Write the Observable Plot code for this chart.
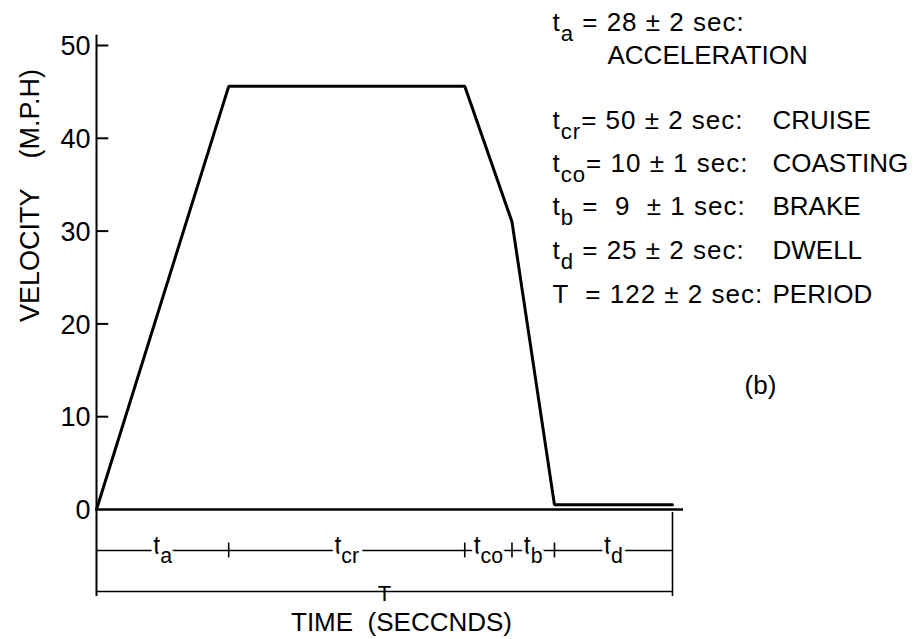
<!DOCTYPE html>
<html>
<head>
<meta charset="utf-8">
<script src="https://cdn.jsdelivr.net/npm/d3@7"></script>
<script src="https://cdn.jsdelivr.net/npm/@observablehq/plot@0.6"></script>
<style>
  html, body { margin: 0; padding: 0; background: #fff; }
  svg text { white-space: pre; }
  svg g.key-eq text { letter-spacing: 1px; }
</style>
</head>
<body>
<div id="chart"></div>
<script>
// Drive-cycle velocity profile: phase boundaries (s) and speed at each boundary (mph)
const phaseEnds = [0, 28, 78, 88, 97, 122];
const velocity = [0, 45.6, 45.6, 31, 0.5, 0.5];
const phaseLabels = ["t_{a}", "t_{cr}", "t_{co}", "t_{b}", "t_{d}"];
const periodLabel = "T";
const yTicks = [0, 10, 20, 30, 40, 50];

// Phase durations key
const legendSymbols = ["t_{a}", "t_{cr}", "t_{co}", "t_{b}", "t_{d}", "T"];
const legendEquations = [" = 28 ± 2 sec:", "= 50 ± 2 sec:", "= 10 ± 1 sec:", " =  9  ± 1 sec:", " = 25 ± 2 sec:", "  = 122 ± 2 sec:"];
const legendNames = ["ACCELERATION", "CRUISE", "COASTING", "BRAKE", "DWELL", "PERIOD"];
const yTitle = "VELOCITY\u00a0\u00a0\u00a0\u00a0(M.P.H)";
const xTitle = "TIME\u00a0\u00a0(SECCNDS)";
const panelTag = "(b)";

// ---- layout ----
const W = 917, H = 639;
const mL = 96, mR = 234, mT = 45, mB = 130;
const FONT = "'Liberation Sans', Arial, sans-serif";
const FS = 26;
const vPx = (H - mB - mT) / 50;               // px per mph
const below = px => -px / vPx;                // pixels under the zero line -> mph units

const ROW = below(41), PERIOD_ROW = below(82), BOX_BOTTOM = below(87);
const legendRows = [22, 120, 163, 206, 250, 294];
const legendWrapY = 55;

const cycle = phaseEnds.map((t, i) => ({t, v: velocity[i]}));
const mids = phaseLabels.map((_, i) => (phaseEnds[i] + phaseEnds[i + 1]) / 2);

// pixel-placed text helper (anchored to the frame's top-left corner)
const place = (str, px, py, opts = {}) =>
  Plot.text([str], {frameAnchor: "top-left", dx: px - mL, dy: py - mT, fontSize: FS, fill: "black",
    textAnchor: "start", lineAnchor: "middle", ...opts});

const chart = Plot.plot({
  width: W, height: H,
  marginLeft: mL, marginRight: mR, marginTop: mT, marginBottom: mB,
  x: {domain: [0, 122], range: [mL, 672], axis: null},
  y: {domain: [0, 50], axis: null},
  style: {fontFamily: FONT, background: "#fff", color: "#000", overflow: "visible"},
  marks: [
    // vertical axis (continues down as left edge of the time box)
    Plot.ruleX([0], {y1: BOX_BOTTOM, y2: 51.1, strokeWidth: 2}),
    // zero line
    Plot.ruleY([0], {strokeWidth: 2.5}),
    // inward ticks and labels
    Plot.ruleY(yTicks.filter(d => d > 0), {y: d => d, x1: 0, x2: 2.6, strokeWidth: 2}),
    Plot.text(yTicks, {x: 0, y: d => d, text: d => String(d), textAnchor: "end", dx: -6, dy: 1, fontSize: 27}),
    // velocity profile
    Plot.line(cycle, {x: "t", y: "v", strokeWidth: 3, strokeLinejoin: "miter"}),
    // time box: right edge, phase row, period row
    Plot.ruleX([122], {y1: BOX_BOTTOM, y2: below(3), strokeWidth: 1.6}),
    Plot.ruleY([ROW], {x1: 0, x2: 122, strokeWidth: 1.6}),
    Plot.ruleX(phaseEnds.slice(1, -1), {x: d => d, y1: ROW - 0.8, y2: ROW + 0.8, strokeWidth: 1.6}),
    Plot.text(phaseLabels, {x: (d, i) => mids[i], y: ROW, text: d => d, lineAnchor: "bottom", dy: 3,
      fontSize: 25, fill: "black", stroke: "white", strokeWidth: 7, paintOrder: "stroke"}),
    Plot.ruleY([PERIOD_ROW], {x1: 0, x2: 122, strokeWidth: 1.6}),
    Plot.text([periodLabel], {x: 61, y: PERIOD_ROW, lineAnchor: "middle", dy: 2, fontSize: 22, fill: "black"}),
    // axis titles
    place(xTitle, 401, 622, {textAnchor: "middle"}),
    place(yTitle, 30, 195, {rotate: -90, textAnchor: "middle", fontSize: 27}),
    // key of phase durations
    ...legendSymbols.map((s, i) =>
      place(s + legendEquations[i], 552, legendRows[i], {className: "key-eq"})),
    place(legendNames[0], 607, legendWrapY),
    ...legendNames.slice(1).map((s, i) => place(s, 772, legendRows[i + 1])),
    place(panelTag, 760, 385, {textAnchor: "middle"})
  ]
});

document.getElementById("chart").appendChild(chart);

// turn "x_{sub}" markup into lowered tspans
(function applySubscripts(svg) {
  const NS = "http://www.w3.org/2000/svg";
  svg.querySelectorAll("text").forEach(text => {
    const src = text.textContent;
    if (!src.includes("_{")) return;
    const fs = parseFloat(getComputedStyle(text).fontSize) || FS;
    const shift = fs * 0.38;
    const parts = src.split(/_\{([^}]*)\}/);
    while (text.firstChild) text.removeChild(text.firstChild);
    let lowered = false;
    parts.forEach((p, i) => {
      if (p === "") return;
      const span = document.createElementNS(NS, "tspan");
      span.textContent = p;
      const isSub = i % 2 === 1;
      if (isSub) {
        span.setAttribute("font-size", fs * 0.85);
        if (!lowered) { span.setAttribute("dy", shift); lowered = true; }
      } else if (lowered) {
        span.setAttribute("dy", -shift); lowered = false;
      }
      text.appendChild(span);
    });
  });
})(chart);
</script>
</body>
</html>
